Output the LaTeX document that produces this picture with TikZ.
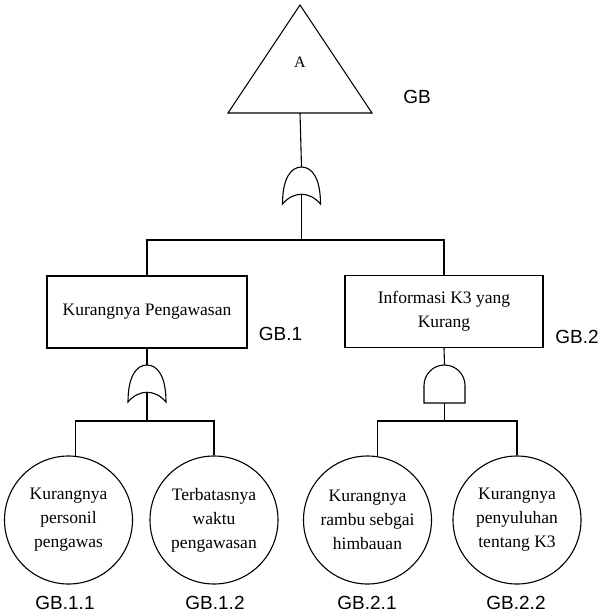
\documentclass[tikz,border=0pt]{standalone}
\usepackage{fontspec}
\setmainfont{Liberation Serif}
\newfontfamily\labelfont{Liberation Sans}
\begin{document}
\begin{tikzpicture}[x=1pt,y=-1pt,
  line width=1.1pt,
  evbox/.style={draw, rectangle, minimum width=200pt, minimum height=72pt,
    inner sep=0pt, align=center, font=\fontsize{17.5}{24}\selectfont},
  basic/.style={draw, circle, minimum size=128pt, inner sep=0pt,
    align=center, font=\fontsize{17.5}{24}\selectfont},
  tag/.style={font=\labelfont\fontsize{19}{22}\selectfont, inner sep=0pt},
  orgatepic/.pic={
    \draw[fill=white] (-19,37) .. controls (-19,12) and (-11,0) .. (0,0)
      .. controls (11,0) and (19,12) .. (19,37)
      .. controls (8,24) and (-8,24) .. (-19,37) -- cycle;
    \coordinate (-in) at (0,0);
    \coordinate (-out) at (0,27);
  },
  andgatepic/.pic={
    \draw[fill=white] (-20.5,38) -- (-20.5,20.5)
      .. controls (-20.5,9.2) and (-11.3,0) .. (0,0)
      .. controls (11.3,0) and (20.5,9.2) .. (20.5,20.5)
      -- (20.5,38) -- cycle;
    \coordinate (-in) at (0,0);
    \coordinate (-out) at (0,38);
  }]
\useasboundingbox (0,0) rectangle (607,613);

% top event
\draw (300,5) -- (372,113) -- (228,113) -- cycle;
\node[font=\fontsize{16}{18}\selectfont] (topev) at (300,62) {A};
\coordinate (topbase) at (300,113);
\node[tag] (tgb) at (417,96.5) {GB};

% gates
\pic (g1) at (301.5,167) {orgatepic};
\pic (g2) at (147,365) {orgatepic};
\pic (g3) at (444.5,365) {andgatepic};

% intermediate events
\node[evbox] (b1) at (147,312) {Kurangnya Pengawasan};
\node[evbox, minimum width=198pt] (b2) at (444,311.5) {Informasi K3 yang\\Kurang};
\node[tag] (tgb1) at (280.5,333.5) {GB.1};
\node[tag] (tgb2) at (577,336.5) {GB.2};

% basic events
\node[basic] (c1) at (68.5,520) {Kurangnya\\personil\\pengawas};
\node[basic] (c2) at (214,520) {Terbatasnya\\waktu\\pengawasan};
\node[basic] (c3) at (367.5,520) {Kurangnya\\rambu sebgai\\himbauan};
\node[basic] (c4) at (517,520) {Kurangnya\\penyuluhan\\tentang K3};
\node[tag] (t11) at (65,603) {GB.1.1};
\node[tag] (t12) at (215,603) {GB.1.2};
\node[tag] (t21) at (367,603) {GB.2.1};
\node[tag] (t22) at (516,603) {GB.2.2};

% junction points of the connectors
\coordinate (j1) at (301.5,240);
\coordinate (j2) at (147,421);
\coordinate (j3) at (444.5,421);

% connectors
\draw (topbase) -- (g1-in);
\draw (g1-out) -- (j1);
\draw (b1.north) |- (j1) -| (b2.north);
\draw (b1.south) -- (g2-in);
\draw (b2.south) -- (g3-in);
\draw (g2-out) -- (j2);
\draw (g3-out) -- (j3);
\draw (c1.84) |- (j2) -| (c2.north);
\draw (c3.81) |- (j3) -| (c4.north);
\end{tikzpicture}
\end{document}
